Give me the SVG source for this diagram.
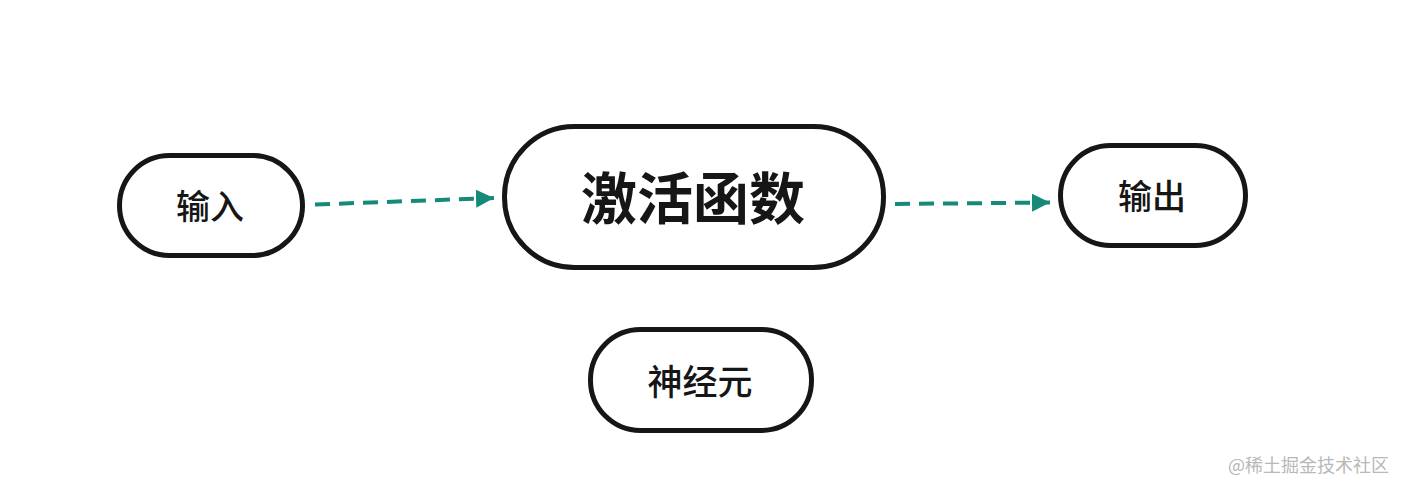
<svg xmlns="http://www.w3.org/2000/svg" width="1405" height="492" viewBox="0 0 1405 492">
<style>
.node{fill:#fff;stroke:#161616;stroke-width:5}
.lbl{font-family:"Noto Sans CJK SC","Noto Sans",sans-serif;fill:#161616;text-anchor:middle;dominant-baseline:central;font-weight:500}
.lbl.big{font-weight:700}
.edge{stroke:#158a78;stroke-width:4;stroke-dasharray:15 9;fill:none}
.wm{font-family:"Noto Sans CJK SC","Noto Sans",sans-serif;fill:#b8b8b8;font-size:18px}
</style>
<defs>
<marker id="ah" viewBox="0 0 10 10" refX="10" refY="5" markerWidth="4.5" markerHeight="4.5" orient="auto" markerUnits="strokeWidth">
<path d="M0,0 L10,5 L0,10 z" fill="#158a78"/>
</marker>
</defs>
<rect width="1405" height="492" fill="#fff"/>
<g id="connectors">
<line class="edge" x1="315" y1="204.5" x2="494" y2="198" marker-end="url(#ah)"/>
<line class="edge" x1="895" y1="204" x2="1050" y2="202.5" marker-end="url(#ah)"/>
</g>
<g id="input">
<rect class="node" x="119.5" y="155.5" width="183" height="100" rx="50"/>
<text class="lbl" x="210" y="204" font-size="34">输入</text>
</g>
<g id="activation">
<rect class="node" x="504.5" y="126.5" width="379" height="141" rx="70"/>
<text class="lbl big" x="693" y="194" font-size="56">激活函数</text>
</g>
<g id="output">
<rect class="node" x="1060.5" y="145.5" width="185" height="100" rx="50"/>
<text class="lbl" x="1152" y="194" font-size="34">输出</text>
</g>
<g id="neuron">
<rect class="node" x="590.5" y="329.5" width="221" height="101" rx="50"/>
<text class="lbl" x="700" y="379" font-size="35">神经元</text>
</g>
<text class="wm" x="1228" y="472">@稀土掘金技术社区</text>
</svg>
